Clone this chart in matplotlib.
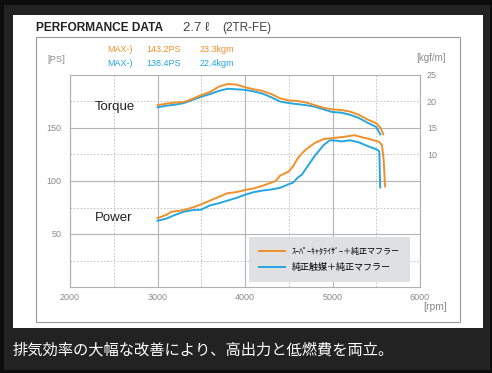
import numpy as np
import matplotlib.pyplot as plt
from matplotlib.patches import Rectangle

# torque [kgf-m] vs rpm
rpm_tq_super = [3000, 3100, 3200, 3300, 3400, 3500, 3600, 3700, 3800, 3900, 4000, 4100, 4200,
                4300, 4400, 4500, 4600, 4700, 4800, 4900, 5000, 5100, 5200, 5300, 5400, 5500,
                5550, 5580]
tq_super = [19.3, 19.6, 19.8, 19.9, 20.5, 21.2, 21.8, 22.8, 23.3, 23.2, 22.7, 22.3, 22.0,
            21.4, 20.6, 20.2, 20.1, 19.8, 19.3, 18.8, 18.5, 18.4, 18.1, 17.5, 16.6, 15.9,
            15.0, 13.8]
rpm_tq_std = [3000, 3100, 3200, 3300, 3400, 3500, 3600, 3700, 3800, 3900, 4000, 4100, 4200,
              4300, 4400, 4500, 4600, 4700, 4800, 4900, 5000, 5100, 5200, 5300, 5400, 5500,
              5545]
tq_std = [18.9, 19.2, 19.4, 19.7, 20.3, 20.9, 21.4, 22.0, 22.4, 22.3, 22.2, 21.9, 21.5,
          20.8, 20.0, 19.7, 19.5, 19.3, 19.0, 18.5, 18.0, 17.9, 17.5, 16.9, 16.0, 15.2,
          13.8]

# power [PS] vs rpm
rpm_ps_super = [3000, 3100, 3160, 3300, 3400, 3500, 3600, 3700, 3800, 3900, 4000, 4100, 4200,
                4300, 4350, 4400, 4500, 4550, 4600, 4650, 4700, 4800, 4900, 5000, 5100, 5200,
                5250, 5350, 5450, 5530, 5565, 5585, 5600]
ps_super = [65, 68, 71, 72.5, 75, 78, 81.5, 85, 88.5, 89.5, 91.5, 93, 95.5,
            98.5, 100, 105, 109, 114, 121, 126, 130, 136, 139.5, 140.5, 141.3, 142.5,
            143.2, 141, 139, 137, 134, 120, 95]
rpm_ps_std = [3000, 3100, 3200, 3300, 3400, 3500, 3600, 3700, 3800, 3900, 4000, 4100, 4200,
              4300, 4400, 4500, 4550, 4600, 4650, 4700, 4750, 4800, 4900, 4970, 5050, 5100,
              5200, 5300, 5400, 5500, 5535, 5545]
ps_std = [62.5, 64.5, 68, 71, 72.5, 73, 77, 79, 81.5, 84, 87, 89.5, 91,
          92, 93.5, 97, 98.5, 103, 106, 112, 118, 124, 134, 138.4, 138, 137.3,
          138.4, 136.5, 133, 130, 128, 94]

x_ticks = [2000, 3000, 4000, 5000, 6000]
ps_ticks = [50, 100, 150]
kgf_ticks = [10, 15, 20, 25]

label_super = 'ｽｰﾊﾟｰｷｬﾀﾗｲｻﾞｰ＋純正マフラー'
label_std = '純正触媒＋純正マフラー'
caption = '排気効率の大幅な改善により、高出力と低燃費を両立。'

orange = '#f0902a'
blue = '#26a6e0'
jp = ['Noto Sans CJK JP', 'DejaVu Sans']
sans = ['Liberation Sans', 'DejaVu Sans']

W, H = 492, 373
fig = plt.figure(figsize=(W / 100, H / 100), dpi=100, facecolor='#0c0c0c')


def px(x, y):
    return x / W, 1 - y / H


def box(x0, y0, x1, y1, **kw):
    fig.patches.append(Rectangle((x0 / W, 1 - y1 / H), (x1 - x0) / W, (y1 - y0) / H,
                                 transform=fig.transFigure, figure=fig, zorder=-10, **kw))


box(4, 5, 490, 370, facecolor='#222222', edgecolor='none')
box(13, 15, 483, 328, facecolor='white', edgecolor='none')
box(36, 37, 460, 322, facecolor='none', edgecolor='#9a9a9a', lw=0.8)

ax = fig.add_axes([70 / W, 1 - 287 / H, 350 / W, 212 / H])
ax.set_xlim(2000, 6000)
ax.set_ylim(0, 200)
ax.set_xticks(x_ticks)
ax.set_xticks([2500, 3500, 4500, 5500], minor=True)
ax.set_yticks(ps_ticks)
ax.set_yticks([25, 75, 125, 175], minor=True)
ax.grid(which='major', color='#b5b5b5', lw=0.8)
ax.grid(which='minor', color='#bdbdbd', lw=0.6, ls=(0, (2, 2)))
ax.tick_params(which='both', length=0, labelsize=6.5, labelcolor='#8a8a8a')
ax.tick_params(axis='x', pad=4)
ax.tick_params(axis='y', pad=6)
for s in ax.spines.values():
    s.set_color('#b0b0b0')
    s.set_linewidth(0.8)
for lab in ax.get_xticklabels() + ax.get_yticklabels():
    lab.set_family(sans)

ax2 = ax.twinx()
ax2.set_ylim(-15, 25)
ax2.set_yticks(kgf_ticks)
ax2.tick_params(length=0, labelsize=6.5, labelcolor='#8a8a8a', pad=5)
for s in ax2.spines.values():
    s.set_visible(False)
for lab in ax2.get_yticklabels():
    lab.set_family(sans)

ax2.plot(rpm_tq_std, tq_std, color=blue, lw=1.4)
ax2.plot(rpm_tq_super, tq_super, color=orange, lw=1.4)
ax.plot(rpm_ps_std, ps_std, color=blue, lw=1.4, label=label_std)
ax.plot(rpm_ps_super, ps_super, color=orange, lw=1.4, label=label_super)

h, l = ax.get_legend_handles_labels()
leg = ax2.legend(h[::-1], l[::-1], loc='lower right', bbox_to_anchor=(0.971, 0.024),
                 borderaxespad=0, frameon=True, fancybox=False, facecolor='#dfe0e2',
                 edgecolor='none', framealpha=1, prop={'family': jp, 'size': 6.5},
                 handlelength=2.9, handletextpad=0.8, borderpad=1.1, labelspacing=0.75)
leg.get_texts()[0].set_fontsize(5.8)

fig.text(*px(36, 28), 'PERFORMANCE DATA', family=sans, weight='bold', fontsize=8.6,
         color='#222222', va='center')
fig.text(*px(183, 28), '2.7 ℓ', family=sans, fontsize=9.5, color='#444444', va='center')
fig.text(*px(222, 28), '(2TR-FE)', family=sans, fontsize=8.5, color='#444444', va='center')

fig.text(*px(107, 50), 'MAX-)', family=sans, fontsize=6.5, color=orange, va='center')
fig.text(*px(146, 50), '143.2PS', family=sans, fontsize=6.5, color=orange, va='center')
fig.text(*px(200, 50), '23.3kgm', family=sans, fontsize=6.5, color=orange, va='center')
fig.text(*px(107, 63), 'MAX-)', family=sans, fontsize=6.5, color=blue, va='center')
fig.text(*px(146, 63), '138.4PS', family=sans, fontsize=6.5, color=blue, va='center')
fig.text(*px(200, 63), '22.4kgm', family=sans, fontsize=6.5, color=blue, va='center')

fig.text(*px(47, 60), '[PS]', family=sans, fontsize=6.8, color='#8a8a8a', va='center')
fig.text(*px(446, 58), '[kgf/m]', family=sans, fontsize=7, color='#8a8a8a', va='center',
         ha='right')
fig.text(*px(447, 307), '[rpm]', family=sans, fontsize=7.5, color='#8a8a8a', va='center',
         ha='right')

fig.text(*px(95, 107), 'Torque', family=sans, fontsize=9.5, color='#222222', va='center')
fig.text(*px(95, 218), 'Power', family=sans, fontsize=9.5, color='#222222', va='center')

fig.text(*px(13, 350), caption, family=jp, fontsize=11, color='white', va='center')

fig.savefig('out.png', dpi=100, facecolor=fig.get_facecolor())
